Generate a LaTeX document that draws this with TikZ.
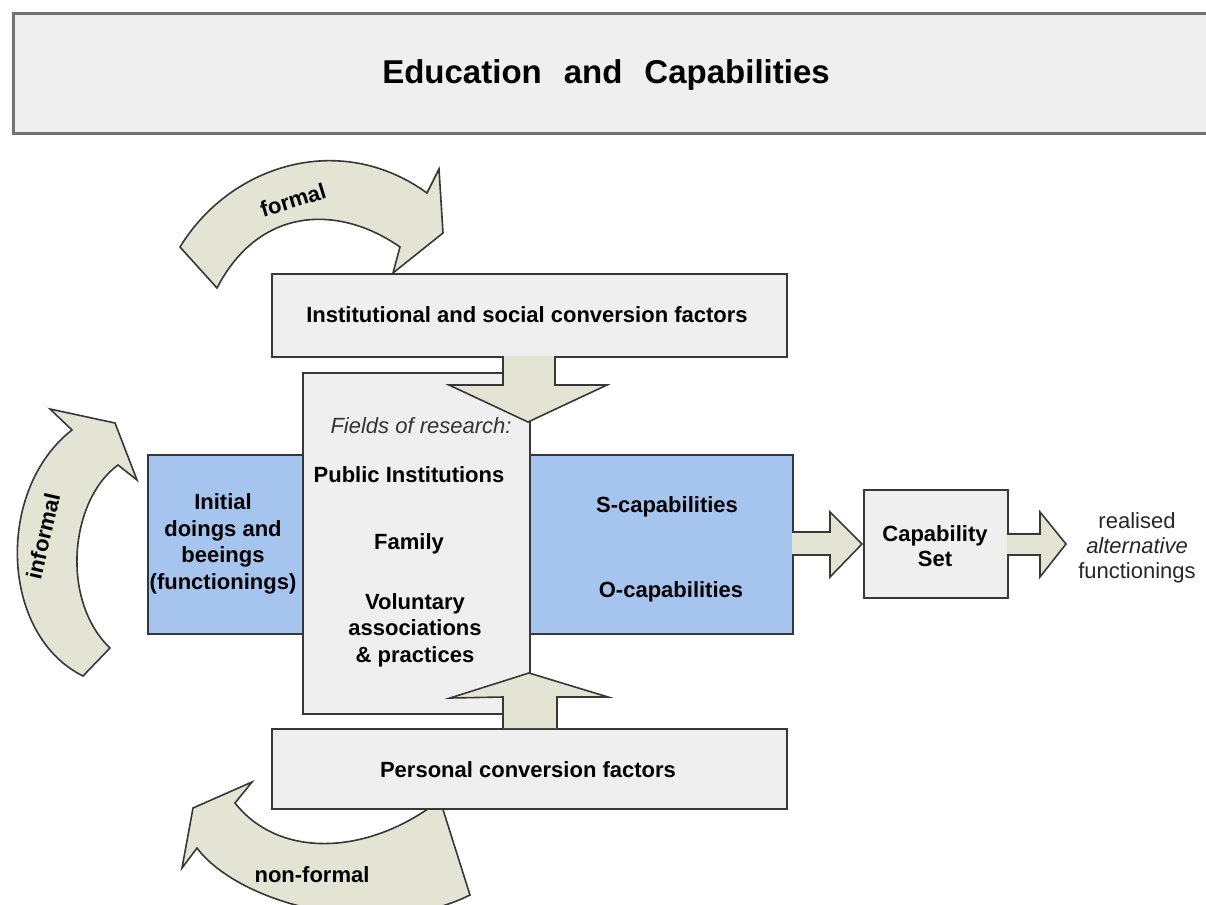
\documentclass[tikz,border=0pt]{standalone}
\usepackage{fontspec}
\setmainfont{Liberation Sans}
\definecolor{boxgray}{RGB}{239,239,239}
\definecolor{capblue}{RGB}{166,197,238}
\definecolor{arrowfill}{RGB}{228,228,213}
\definecolor{edgegray}{RGB}{55,55,55}
\definecolor{titleedge}{RGB}{115,115,115}
\begin{document}
\begin{tikzpicture}[x=0.5pt,y=-0.5pt,
  graybox/.style={draw=edgegray, line width=0.8pt, fill=boxgray, anchor=north west, inner sep=0pt},
  bluebox/.style={draw=edgegray, line width=0.8pt, fill=capblue, anchor=north west, inner sep=0pt},
  blockarrow/.style={draw=edgegray, line width=0.8pt, fill=arrowfill, line join=miter},
  lbl/.style={font=\bfseries\fontsize{11}{13.2}\selectfont, align=center, inner sep=0pt},
  plainlbl/.style={font=\fontsize{11}{12.5}\selectfont, align=center, inner sep=0pt, text=black!85}
]
\useasboundingbox (0,0) rectangle (1206,905);
\clip (0,0) rectangle (1206,905);

% heading
\node[draw=titleedge, line width=1.5pt, fill=boxgray, anchor=north west, inner sep=0pt,
      minimum width=599pt, minimum height=60pt] (title) at (12,12) {};
\node[font=\bfseries\fontsize{16.5}{18}\selectfont, inner sep=0pt] (titletext) at (606,75)
  {Education\hspace{11pt}and\hspace{11pt}Capabilities};

% curved block arrows around the centre
\draw[blockarrow] (180,247) .. controls (230,165) and (340,130) .. (427,193)
  -- (439,169) -- (443,233) -- (393,273) -- (400,247)
  .. controls (340,205) and (260,205) .. (217,288) -- cycle;
\node[lbl, rotate=17] (formal) at (293,200) {formal};

\draw[blockarrow] (83,676) .. controls (0,635) and (-5,490) .. (72,430)
  -- (50,409) -- (115,423) -- (137,480) -- (118,465)
  .. controls (70,500) and (60,600) .. (110,648) -- cycle;
\node[lbl, rotate=77] (informal) at (43,536) {informal};

\draw[blockarrow] (252,782) -- (193,808) -- (182,868) -- (197,848)
  .. controls (240,905) and (380,940) .. (470,895) -- (440,800)
  .. controls (370,855) and (280,860) .. (235,803) -- cycle;
\node[lbl] (nonformal) at (312,875) {non-formal};

% conversion factor boxes
\node[graybox, minimum width=257.5pt, minimum height=41.5pt] (inst) at (271,273) {};
\node[lbl] (insttext) at (527,315) {Institutional and social conversion factors};

\node[graybox, minimum width=257.5pt, minimum height=40pt] (pers) at (271,728) {};
\node[lbl] (perstext) at (528,770) {Personal conversion factors};

% functionings and capabilities band
\node[bluebox, minimum width=322.5pt, minimum height=89.5pt] (band) at (147,454) {};
\node[graybox, minimum width=113.5pt, minimum height=170.5pt] (fields) at (302,372) {};

\node[lbl, font=\bfseries\fontsize{11}{13.3}\selectfont] (initial) at (223,544)
  {Initial\\doings and\\beeings\\(functionings)};

\node[plainlbl, font=\itshape\fontsize{11}{12.5}\selectfont, text=black!80] (fieldshead) at (421,426) {Fields of research:};
\node[lbl] (public) at (409,475) {Public Institutions};
\node[lbl] (family) at (409,544) {Family};
\node[lbl, font=\bfseries\fontsize{11}{13.2}\selectfont] (voluntary) at (415,630)
  {Voluntary\\associations\\\& practices};

\node[lbl] (scap) at (667,507) {S-capabilities};
\node[lbl] (ocap) at (671,592) {O-capabilities};

% straight block arrows into the fields box
\draw[blockarrow] (503,356) -- (503,385) -- (449,385) -- (528,422) -- (607,385)
  -- (555,385) -- (555,356);
\draw[blockarrow] (503,728) -- (503,697) -- (450,698) -- (529,673) -- (608,697)
  -- (557,697) -- (557,728);

% capability set and outcome
\node[graybox, minimum width=72pt, minimum height=54pt] (capset) at (863,489) {};
\node[lbl, font=\bfseries\fontsize{11}{12.5}\selectfont] (capsettext) at (935,546) {Capability\\Set};

\draw[blockarrow] (792,532) -- (830,532) -- (830,512) -- (862,544) -- (830,577)
  -- (830,555) -- (792,555);
\draw[blockarrow] (1007,534) -- (1040,534) -- (1040,512) -- (1066,544) -- (1040,577)
  -- (1040,555) -- (1007,555);

\node[plainlbl] (outcome) at (1137,548)
  {realised\\\textit{alternative}\\functionings};
\end{tikzpicture}
\end{document}
